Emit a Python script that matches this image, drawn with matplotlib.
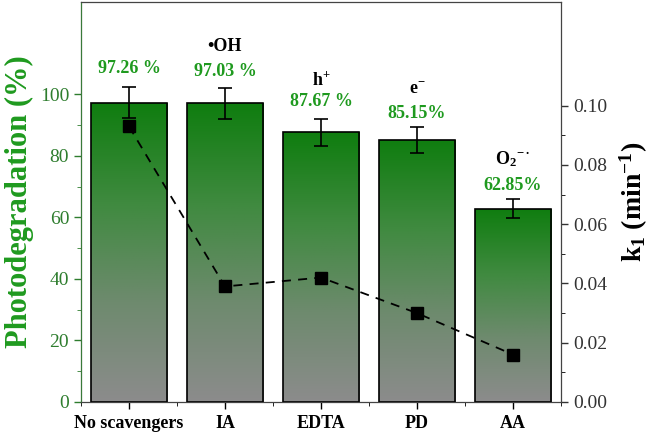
import numpy as np
import matplotlib
matplotlib.use("Agg")
import matplotlib.pyplot as plt
from matplotlib.colors import LinearSegmentedColormap
from matplotlib.ticker import FixedLocator

categories = ["No scavengers", "IA", "EDTA", "PD", "AA"]
degradation = [97.26, 97.03, 87.67, 85.15, 62.85]
deg_err = [5.0, 5.0, 4.4, 4.3, 3.2]
k1 = [0.093, 0.039, 0.042, 0.030, 0.016]
pct_labels = ["97.26 %", "97.03 %", "87.67 %", "85.15%", "62.85%"]
radical_labels = ["", "•OH", "h$^{\\mathbf{+}}$", "e$^{\\mathbf{-}}$", "O$_{\\mathbf{2}}$$^{\\mathbf{-\\bullet}}$"]

plt.rcParams['font.family'] = ['Liberation Serif', 'DejaVu Serif']
plt.rcParams['mathtext.fontset'] = 'custom'
plt.rcParams['mathtext.rm'] = 'Liberation Serif'
plt.rcParams['mathtext.bf'] = 'Liberation Serif:bold'
plt.rcParams['mathtext.default'] = 'bf'

green_txt = "#1f9a1f"
tick_green = "#2e7d2e"

fig = plt.figure(figsize=(6.5, 4.34), dpi=100)
ax = fig.add_axes([81/650, 1-402/434, (561-81)/650, (402-2)/434])
ax2 = ax.twinx()

x = np.arange(len(categories))
width = 0.8
cmap = LinearSegmentedColormap.from_list("g", ["#8c8c8c", "#6e8a6e", "#3f8a3f", "#0f7d0f"])
grad = np.linspace(0, 1, 256).reshape(-1, 1)

bars = ax.bar(x, degradation, width=width, color="none", edgecolor="black", linewidth=1.2, zorder=3)
for b in bars:
    x0, w, h = b.get_x(), b.get_width(), b.get_height()
    im = ax.imshow(grad, cmap=cmap, aspect="auto", origin="lower",
                   extent=[x0, x0 + w, 0, h], zorder=2)
    im.set_clip_path(b)

ax.errorbar(x, degradation, yerr=deg_err, fmt="none", ecolor="black",
            elinewidth=1.2, capsize=5, capthick=1.2, zorder=4)

pct_off = [6.1, 5.4, 5.6, 4.4, 4.2]
rad_off = [0, 8.1, 7.0, 7.8, 8.8]
for i, (xv, v) in enumerate(zip(x, degradation)):
    ypct = v + deg_err[i] + pct_off[i]
    ax.text(xv, ypct, pct_labels[i], color=green_txt, fontsize=13, fontweight="bold",
            ha="center", va="center", zorder=5)
    if radical_labels[i]:
        ax.text(xv, ypct + rad_off[i], radical_labels[i], color="black", fontsize=13,
                fontweight="bold", ha="center", va="center", zorder=5)

ax.set_xlim(-0.5, 4.5)
ax.set_ylim(0, 130)
ax.set_yticks([0, 20, 40, 60, 80, 100])
ax.yaxis.set_minor_locator(FixedLocator([10, 30, 50, 70, 90]))
ax.set_xticks(x)
ax.set_xticklabels(categories, fontsize=13, fontweight="bold")
ax.set_xticks(np.arange(-0.5, 4.6, 1.0), minor=True)
ax.tick_params(axis="y", colors=tick_green, labelsize=14, direction="out", length=5, width=1)
ax.tick_params(axis="y", which="minor", colors=tick_green, length=3)
ax.tick_params(axis="x", direction="out", length=5, width=1, pad=4)
ax.tick_params(axis="x", which="minor", length=3)
ax.set_ylabel("Photodegradation (%)", color=green_txt, fontsize=22, fontweight="bold", labelpad=4)

ax2.plot(x, k1, linestyle=(0, (5, 4)), color="black", linewidth=1.3,
         marker="s", markersize=8, markerfacecolor="black", zorder=6)
ax2.set_ylim(0, 0.135)
ax2.set_yticks([0.00, 0.02, 0.04, 0.06, 0.08, 0.10])
ax2.set_yticklabels(["0.00", "0.02", "0.04", "0.06", "0.08", "0.10"])
ax2.yaxis.set_minor_locator(FixedLocator([0.01, 0.03, 0.05, 0.07, 0.09]))
ax2.tick_params(axis="y", colors="#333333", labelsize=14, direction="out", length=5, width=1)
ax2.tick_params(axis="y", which="minor", length=3)
ax2.set_ylabel("k$_\\mathbf{1}$ (min$^{\\mathbf{-1}}$)", color="black", fontsize=20,
               fontweight="bold", labelpad=8)

for sp in ax2.spines.values():
    sp.set_color("#444444")
ax2.spines["left"].set_color("#3a7a3a")
ax.set_zorder(1)
ax2.set_zorder(2)
ax2.patch.set_visible(False)

fig.savefig("out.png", dpi=100)
